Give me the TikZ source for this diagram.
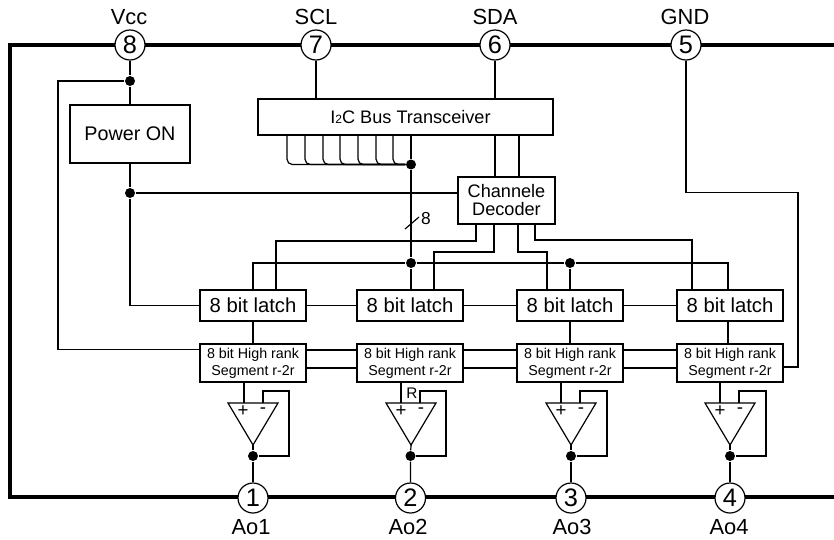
\documentclass[tikz,border=0pt]{standalone}
\usepackage{fontspec}
\setmainfont{Liberation Sans}
\begin{document}
\begin{tikzpicture}[x=0.75pt,y=-0.75pt,line width=0.9pt,
  every node/.style={font=\fontsize{15}{16}\selectfont},
  pin/.style={circle,draw,fill=white,minimum size=22.5pt,inner sep=0pt,font=\fontsize{19}{20}\selectfont},
  pinlabel/.style={inner sep=0pt,font=\fontsize{16.4}{18}\selectfont},
  box/.style={draw,fill=white,inner sep=0pt,align=center},
  latchbox/.style={box,minimum width=79.5pt,minimum height=23.25pt,font=\fontsize{15.2}{16}\selectfont},
  segbox/.style={box,minimum width=79.5pt,minimum height=28.5pt,font=\fontsize{10.7}{12.6}\selectfont},
  junction/.style={circle,fill=black,minimum size=7.5pt,inner sep=0pt},
  smalltext/.style={inner sep=0pt,font=\fontsize{11.5}{12}\selectfont},
  frameline/.style={line width=3pt},
  heavy/.style={line width=1.7pt}]
\useasboundingbox (0,0) rectangle (834,539);
% package frame
\coordinate (ftr) at (834,44.5);
\coordinate (ftl) at (10,44.5);
\coordinate (fbl) at (10,496.5);
\coordinate (fbr) at (834,496.5);
\draw[frameline,line join=miter] (ftr) -- (ftl) -- (fbl) -- (fbr);
% boxes
\node[box,minimum width=90pt,minimum height=43.5pt,font=\fontsize{14.8}{16}\selectfont] (pwr) at (130,134) {Power ON};
\node[box,minimum width=221.25pt,minimum height=27pt,font=\fontsize{13.6}{16}\selectfont] (i2c) at (405.5,117) {\hspace*{7.5pt}I{\fontsize{9}{10}\selectfont 2}C Bus Transceiver};
\node[box,minimum width=72.75pt,minimum height=35.25pt,font=\fontsize{13.6}{13.5}\selectfont] (dec) at (506.5,200.5) {Channele\\Decoder};
\foreach \n/\x in {1/253,2/410,3/570,4/730}{
  \node[latchbox] (lat\n) at (\x,305.5) {8 bit latch};
  \node[segbox] (seg\n) at (\x,363) {8 bit High rank\\Segment r-2r};
}
% pins
\node[pin] (p8) at (130,45) {8};
\node[pin] (p7) at (316,45) {7};
\node[pin] (p6) at (495,45) {6};
\node[pin] (p5) at (686,45) {5};
\node[pin] (p1) at (253,498) {1};
\node[pin] (p2) at (410.5,498) {2};
\node[pin] (p3) at (571,498) {3};
\node[pin] (p4) at (730,498) {4};
\node[pinlabel] at (129,17) {Vcc};
\node[pinlabel] at (316,17) {SCL};
\node[pinlabel] at (495,17) {SDA};
\node[pinlabel] at (685,17) {GND};
\node[pinlabel] at (251,527) {Ao1};
\node[pinlabel] at (408,527) {Ao2};
\node[pinlabel] at (572,527) {Ao3};
\node[pinlabel] at (729,527) {Ao4};
% junctions
\node[junction] (jv) at (130,81) {};
\node[junction] (jp) at (130,193) {};
\node[junction] (jb) at (411,164.5) {};
\node[junction] (jl2) at (411,263) {};
\node[junction] (jl3) at (570,263) {};
\node[junction] (o1) at (253,456) {};
\node[junction] (o2) at (410.5,456) {};
\node[junction] (o3) at (571,456) {};
\node[junction] (o4) at (730,456) {};
% supply and power-on
\draw (p8) -- (jv) -- (pwr);
\draw (pwr) -- (jp);
\draw (jv) -| (58,349.5) -- (seg1.west |- 0,349.5);
\draw (jp) |- (lat1.west);
\draw (jp) -- (dec.west |- jp);
% bus
\draw (p7) -- (p7 |- i2c.north);
\draw (p6) -- (p6 |- i2c.north);
\draw (p5) |- (798,192.5) |- (seg4.east |- 0,367);
\foreach \x in {287,305,323,340,358,376,393}{
  \draw[rounded corners=4pt] (\x,135) |- (jb);
}
\draw (jb |- i2c.south) -- (jb) -- (jl2) -- (jl2 |- lat2.north);
\draw (495,135) -- (495,177);
\draw (519,135) -- (519,177);
\coordinate (sa) at (405,229);
\coordinate (sb) at (419,217);
\draw (sa) -- (sb);
\node[inner sep=0pt,font=\fontsize{13}{14}\selectfont] at (426,219) {8};
% decoder outputs
\draw (476,224) |- (276,241) -- (276,290);
\draw (494,224) |- (434,252) -- (434,290);
\draw (518,224) |- (547,252) -- (547,290);
\draw (535,224) |- (692,240) -- (692,290);
% latch strobe rail
\draw (253,290) |- (jl2) -- (jl3) -| (728,290);
\draw (jl3) -- (jl3 |- lat3.north);
% latch chain
\draw (lat1) -- (lat2);
\draw (lat2) -- (lat3);
\draw (lat3) -- (lat4);
% latch to segment
\draw (lat1.south) -- (seg1.north);
\draw (lat3.south) -- (seg3.north);
\draw (728,321) -- (728,344);
% segment chain
\foreach \a/\b in {1/2,2/3,3/4}{
  \draw[heavy] (seg\a.east |- 0,350) -- (seg\b.west |- 0,350);
  \draw (seg\a.east |- 0,368) -- (seg\b.west |- 0,368);
}
% op-amps
\foreach \n/\c/\i/\f/\r/\yy in {1/253/244/263/289/403,2/411/401/420/446/403,3/571/561/580/607/403,4/730/720/739/766/403}{
  \coordinate (ap\n) at (\c,445);
  \draw[line join=miter] (\c-25,\yy) -- (\c+25,\yy) -- (ap\n) -- cycle;
  \draw (\i,382) -- (\i,\yy);
  \draw (\f,\yy) |- (\r,391) |- (o\n);
  \draw (ap\n) -- (o\n) -- (p\n);
  \node[inner sep=0pt,font=\fontsize{14}{14}\selectfont] at (\c-10,411) {+};
  \node[inner sep=0pt,font=\fontsize{14}{14}\selectfont] at (\c+10,411) {-};
}
\node[smalltext,fill=white,inner sep=0.5pt] at (412,393) {R};
\end{tikzpicture}
\end{document}
